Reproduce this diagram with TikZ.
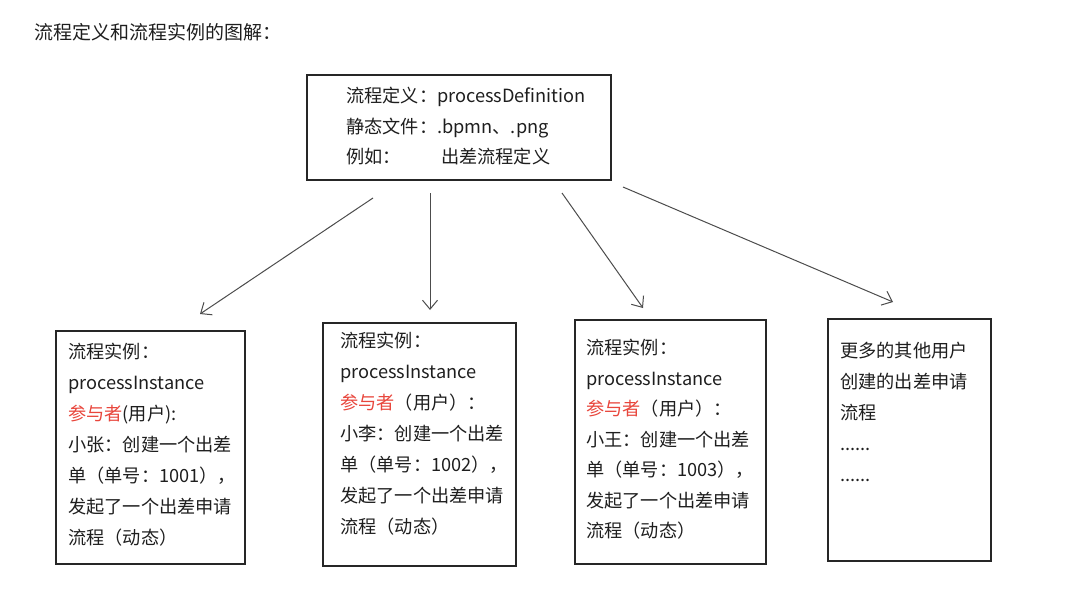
\documentclass[tikz,border=0pt]{standalone}
\usepackage{fontspec}
\setmainfont{Noto Sans CJK SC}
\usetikzlibrary{arrows.meta}
\definecolor{txt}{RGB}{30,30,30}
\definecolor{hl}{RGB}{232,70,60}
\tikzset{
  box/.style={draw=black!85, line width=1.2pt, inner sep=0pt},
  lines/.style={anchor=north west, inner sep=0pt, align=left, text=txt, font=\fontsize{18.2}{31}\selectfont},
  arr/.style={-{Straight Barb[length=9pt,width=15pt]}, line width=1pt, draw=black!70}
}
\begin{document}
\begin{tikzpicture}[x=1pt,y=-1pt]
\useasboundingbox (0,0) rectangle (1080,594);
\node[lines, anchor=west, font=\fontsize{19}{22}\selectfont] (title) at (34,32) {流程定义和流程实例的图解：};
% definition box
\node[box, minimum width=304pt, minimum height=105pt] (def) at (459,127.5) {};
\node[lines, font=\fontsize{18.2}{30.5}\selectfont] (deftext) at (346,87) {\makebox[91pt][l]{流程定义：}processDefinition\\
\makebox[91pt][l]{静态文件：}.bpmn、.png\\
\makebox[95pt][l]{例如：}出差流程定义};
% instance boxes
\node[box, minimum width=189pt, minimum height=233pt] (inst1) at (150.5,447.5) {};
\node[box, minimum width=193pt, minimum height=243pt] (inst2) at (419.5,444.5) {};
\node[box, minimum width=191pt, minimum height=244pt] (inst3) at (670.5,442) {};
\node[box, minimum width=163pt, minimum height=242pt] (inst4) at (909.5,440) {};
\node[lines] (text1) at (68,343) {流程实例：\\processInstance\\{\color{hl}参与者}(用户):\\小张：创建一个出差\\单（单号：1001），\\发起了一个出差申请\\流程（动态）};
\node[lines] (text2) at (340,332) {流程实例：\\processInstance\\{\color{hl}参与者}（用户）：\\小李：创建一个出差\\单（单号：1002），\\发起了一个出差申请\\流程（动态）};
\node[lines, font=\fontsize{18.2}{30.5}\selectfont] (text3) at (586,339) {流程实例：\\processInstance\\{\color{hl}参与者}（用户）：\\小王：创建一个出差\\单（单号：1003），\\发起了一个出差申请\\流程（动态）};
\node[lines] (text4) at (840,342) {更多的其他用户\\创建的出差申请\\流程\\......\\......};
% arrows, loose ends
\coordinate (s1) at (373,198);
\coordinate (e1) at (200,314);
\coordinate (s2) at (430,193);
\coordinate (e2) at (430,310);
\coordinate (s3) at (562,193);
\coordinate (e3) at (643,308);
\coordinate (s4) at (623,187);
\coordinate (e4) at (893,302);
\draw[arr] (s1)--(e1);
\draw[arr] (s2)--(e2);
\draw[arr] (s3)--(e3);
\draw[arr] (s4)--(e4);
\end{tikzpicture}
\end{document}
